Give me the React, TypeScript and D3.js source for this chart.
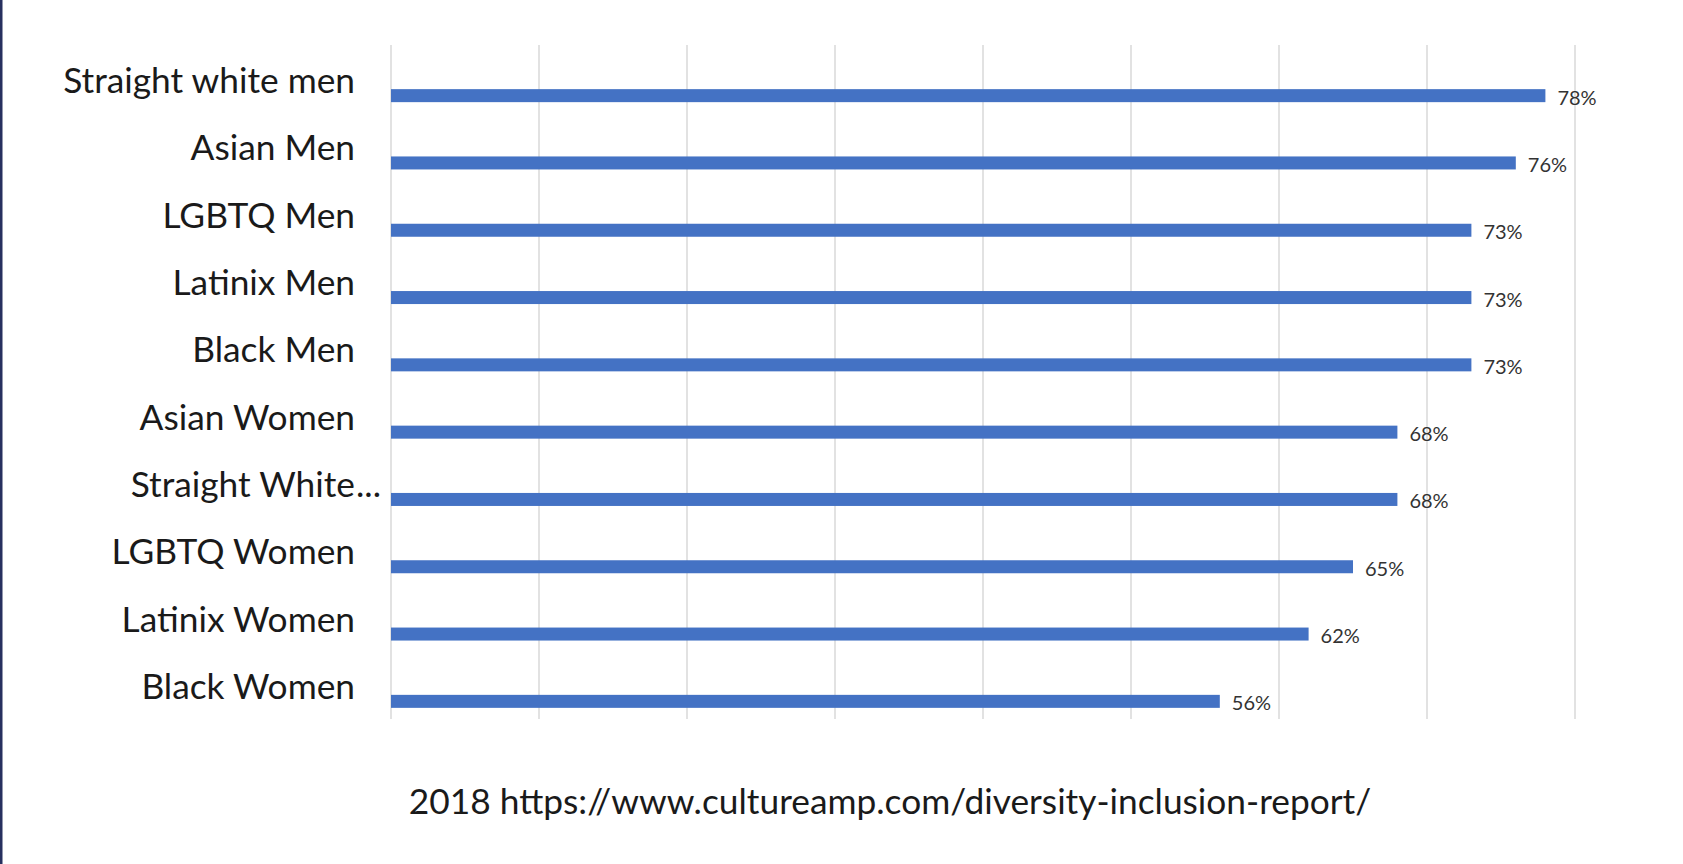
import React from "react";
import * as d3 from "d3";

const categories = [
  "Straight white men",
  "Asian Men",
  "LGBTQ Men",
  "Latinix Men",
  "Black Men",
  "Asian Women",
  "Straight White...",
  "LGBTQ Women",
  "Latinix Women",
  "Black Women",
];
const values = [78, 76, 73, 73, 73, 68, 68, 65, 62, 56];
const xTicks = [0, 10, 20, 30, 40, 50, 60, 70, 80];
const footer = "2018 https://www.cultureamp.com/diversity-inclusion-report/";

const W = 1683;
const H = 864;

export default function App() {
  const x = d3.scaleLinear().domain([0, 80]).range([391, 1575]);
  const y = d3.scaleBand<string>().domain(categories).range([46, 719]).padding(0);
  const barH = 13;
  const barOffset = 16;
  const labelFont = "Lato, 'Open Sans', sans-serif";
  const labelX = 355;

  return (
    <svg
      width={W}
      height={H}
      viewBox={`0 0 ${W} ${H}`}
      style={{ position: "absolute", left: 0, top: 0, background: "#ffffff" }}
    >
      <rect x={0} y={0} width={W} height={H} fill="#ffffff" />
      <rect x={0} y={0} width={2.5} height={H} fill="#27305f" />
      <g>
        {xTicks.map((t) => (
          <line
            key={t}
            x1={x(t)}
            x2={x(t)}
            y1={45}
            y2={719}
            stroke="#d9d9d9"
            strokeWidth={1.5}
          />
        ))}
      </g>
      <g>
        {categories.map((c, i) => {
          const cy = (y(c) as number) + y.bandwidth() / 2;
          const truncated = c.endsWith("...");
          const main = truncated ? c.slice(0, -3) : c;
          return (
            <g key={c}>
              <text
                x={labelX}
                y={cy}
                textAnchor="end"
                dominantBaseline="central"
                fontFamily={labelFont}
                fontSize={35.3}
                fill="#1a1a1a"
              >
                {main}
              </text>
              {truncated && (
                <text
                  x={labelX + 1}
                  y={cy}
                  textAnchor="start"
                  dominantBaseline="central"
                  fontFamily={labelFont}
                  fontSize={35.3}
                  fill="#1a1a1a"
                >
                  ...
                </text>
              )}
              <rect
                x={x(0)}
                y={cy + barOffset - barH / 2}
                width={x(values[i]) - x(0)}
                height={barH}
                fill="#4472c4"
              />
              <text
                x={x(values[i]) + 12}
                y={cy + barOffset + 1}
                dominantBaseline="central"
                fontFamily={labelFont}
                fontSize={20}
                fill="#333333"
              >
                {values[i]}%
              </text>
            </g>
          );
        })}
      </g>
      <text
        x={890}
        y={800}
        textAnchor="middle"
        dominantBaseline="central"
        fontFamily={labelFont}
        fontSize={35.3}
        fill="#1a1a1a"
      >
        {footer}
      </text>
    </svg>
  );
}
